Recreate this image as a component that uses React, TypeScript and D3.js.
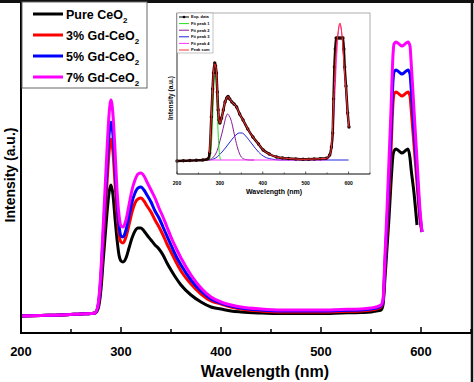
import React from "react";
import * as d3 from "d3";

// ---------- main chart data (intensity, arbitrary units) ----------
const wl = [200, 220, 240, 260, 270, 274, 277, 280, 282, 284, 286, 288, 290, 292, 294, 296, 298, 300, 302, 305, 308, 311, 314, 317, 320, 323, 326, 330, 334, 338, 342, 346, 350, 355, 360, 370, 380, 390, 400, 410, 420, 440, 460, 480, 500, 520, 540, 550, 555, 560, 562, 564, 566, 568, 570, 572, 573, 575, 578, 581, 584, 587, 589, 590, 593, 596, 599, 601];

const pure = [17, 17.5, 18, 19, 19.5, 20, 24, 44, 70, 95, 120, 140, 148, 138, 115, 94, 78, 72, 71, 75, 85, 95, 102, 105, 105, 102, 98, 93, 88, 84, 78, 70, 63, 55, 48, 38, 31, 26, 24, 22, 21, 20, 19.5, 19.5, 19.5, 20, 20.5, 21, 22, 23, 28, 55, 85, 115, 150, 178, 182, 184, 182, 180, 182, 184, 175, 165, 140, 108, null, null];
const gd3 = [17, 17.5, 18, 19, 19.5, 20, 26, 53, 86, 118, 150, 180, 194, 181, 150, 120, 99, 91, 90, 96, 108, 121, 130, 134, 135, 132, 127, 121, 113, 106, 98, 89, 81, 71, 62, 49, 39, 32, 29, 26, 24, 22, 21, 21, 21, 21.5, 22, 23, 24, 26, 30, 65, 100, 140, 182, 230, 239, 241, 239, 237, 239, 241, 237, 226, 188, 150, 113, 101];
const gd5 = [17, 17.5, 18, 19, 19.5, 20, 27, 58, 94, 130, 166, 198, 211, 198, 166, 132, 108, 97, 96, 103, 117, 131, 140, 145, 146, 143, 138, 131, 122, 115, 106, 97, 88, 77, 68, 53, 42, 34, 30, 27, 25, 23, 22, 22, 22, 22.5, 23, 24, 25, 27, 31, 70, 110, 155, 200, 252, 261, 263, 261, 259, 261, 263, 259, 247, 203, 160, 118, 101];
const gd7 = [17, 17.5, 18, 19, 19.5, 20, 28, 63, 103, 143, 183, 218, 233, 218, 183, 143, 118, 107, 106, 113, 128, 143, 153, 159, 160, 157, 151, 143, 135, 125, 116, 106, 96, 85, 75, 58, 45, 36, 31, 28, 26, 24, 23, 23, 23, 23.5, 24, 25, 26, 28, 33, 78, 123, 173, 223, 278, 289, 291, 289, 287, 289, 291, 287, 273, 223, 173, 123, 101];

const seriesNames = ["Pure CeO", "3% Gd-CeO", "5% Gd-CeO", "7% Gd-CeO"];
const seriesColors = ["#000000", "#ff0000", "#0000ff", "#ff00ff"];
const seriesValues = [pure, gd3, gd5, gd7];
const xTicks = [200, 300, 400, 500, 600];
const xMinor = [250, 350, 450, 550, 650];

// ---------- inset data ----------
const expWl = [200, 215, 230, 245, 260, 272, 276, 280, 283, 285, 288, 290, 292, 294, 296, 298, 300, 304, 308, 312, 316, 319, 323, 328, 333, 339, 346, 354, 365, 377, 390, 401, 415, 432, 446, 460, 477, 494, 507, 520, 534, 548, 556, 560, 563, 565, 567, 569, 571, 575, 580, 585, 587, 589, 591, 594, 598, 601];
const expVal = [13, 13.2, 13.5, 13.7, 14, 15, 21, 57, 85, 101, 111, 108, 101, 82, 64, 54, 51, 56, 64, 72, 76, 77.5, 75, 72, 70, 67, 60, 54, 45, 37, 30, 24, 20, 17, 16, 15.5, 15, 14.7, 14.8, 15, 15.3, 15.7, 19, 27, 41, 75, 107, 125, 136, 136, 136, 136, 136, 125, 107, 88, 61, 47];
const sumWl = [276, 280, 283, 285, 288, 290, 292, 294, 296, 298, 300, 304, 308, 312, 316, 319, 323, 328, 333, 339, 346, 354, 365, 377, 390, 401, 415, 432, 460, 494, 520, 548, 556, 560, 565, 570, 575, 580, 583, 587, 590, 594, 598, 601];
const sumVal = [21, 57, 85, 101, 110, 108, 101, 82, 64, 54, 51, 56, 64, 72, 76, 77.5, 75, 72, 70, 67, 60, 54, 45, 37, 30, 24, 20, 17, 15.5, 14.7, 15, 15.7, 19, 27, 70, 115, 140, 151, 145, 125, 105, 85, 60, 47];
const p1Wl = [276, 280, 283, 285, 287, 289, 291, 293, 296, 299, 302];
const p1Val = [14, 28, 55, 78, 95, 99, 95, 75, 40, 20, 14];
const p2Wl = [276, 285, 290, 295, 300, 305, 310, 314, 318, 322, 326, 330, 335, 342, 350, 360, 370, 380];
const p2Val = [14, 17, 20, 25, 33, 41, 50, 57, 60, 58, 54, 47, 37, 25, 17, 14.5, 14, 14];
const p3Wl = [275, 290, 305, 320, 335, 345, 352, 360, 375, 390, 405, 420, 440, 500, 600];
const p3Val = [14, 16, 22, 30, 38, 41, 41, 38, 30, 22, 17, 15, 14, 14, 14];
const p4Wl = [277, 350, 450, 540, 552, 560, 566, 572, 577, 580, 583, 588, 593, 598, 601];
const p4Val = [14, 14, 14, 14, 15, 24, 60, 115, 145, 150, 145, 120, 85, 57, 47];
const insetLegend = ["Exp. data", "Fit peak 1", "Fit peak 2", "Fit peak 3", "Fit peak 4", "Peak sum"];
const insetColors = ["#000000", "#22dd22", "#8a1a9a", "#2222dd", "#ff33ff", "#ff3333"];

const FONT = "'Liberation Sans', Arial, sans-serif";

export default function App() {
  const W = 474, H = 382;
  const x = d3.scaleLinear().domain([200, 650]).range([21, 471]);
  const y = d3.scaleLinear().domain([0, 331]).range([333, 2]);

  const mainLine = (vals: (number | null)[]) =>
    d3.line<number>()
      .defined((_, i) => vals[i] != null)
      .x((d) => x(d))
      .y((_, i) => y(vals[i] as number))
      .curve(d3.curveMonotoneX)(wl) || "";

  const xi = d3.scaleLinear().domain([200, 650]).range([177, 370]);
  const yi = d3.scaleLinear().domain([0, 161]).range([174, 13]);
  const insetLine = (ws: number[], vs: number[]) =>
    d3.line<number>()
      .x((d) => xi(d))
      .y((_, i) => yi(vs[i]))
      .curve(d3.curveMonotoneX)(ws) || "";

  return (
    <svg width={W} height={H} style={{ position: "absolute", left: 0, top: 0, background: "#fff" }} fontFamily={FONT}>
      <rect x={0} y={0} width={W} height={H} fill="#fff" />
      {/* main curves */}
      {seriesValues.map((vals, i) => (
        <path key={i} d={mainLine(vals)} fill="none" stroke={seriesColors[i]} strokeWidth={3} strokeLinejoin="round" />
      ))}

      {/* frame */}
      <line x1={0} x2={W} y1={1.5} y2={1.5} stroke="#111" strokeWidth={3} />
      <line x1={472} x2={472} y1={0} y2={H} stroke="#111" strokeWidth={2.5} />
      <line x1={21} x2={21} y1={2} y2={334} stroke="#000" strokeWidth={2} />
      <line x1={20} x2={471} y1={333} y2={333} stroke="#000" strokeWidth={2} />
      {xTicks.map((t) => (
        <g key={t}>
          <line x1={x(t)} x2={x(t)} y1={333} y2={327} stroke="#000" strokeWidth={1.5} />
          <text x={x(t)} y={356} textAnchor="middle" fontSize={13} fontWeight="bold">{t}</text>
        </g>
      ))}
      {xMinor.map((t) => (
        <line key={t} x1={x(t)} x2={x(t)} y1={333} y2={329} stroke="#000" strokeWidth={1.5} />
      ))}
      <text x={265} y={377} textAnchor="middle" fontSize={16} fontWeight="bold">Wavelength (nm)</text>
      <text transform="translate(15,175) rotate(-90)" textAnchor="middle" fontSize={14} fontWeight="bold">Intensity (a.u.)</text>

      {/* legend */}
      <rect x={22} y={2} width={125} height={86} fill="#fff" stroke="#666" strokeWidth={1} />
      {seriesNames.map((n, i) => (
        <g key={n}>
          <line x1={33} x2={63} y1={14 + i * 21} y2={14 + i * 21} stroke={seriesColors[i]} strokeWidth={3} />
          <text x={66} y={18.5 + i * 21} fontSize={12.5} fontWeight="bold">
            {n}
            <tspan fontSize={8} dy={4}>2</tspan>
          </text>
        </g>
      ))}

      {/* inset */}
      <rect x={177} y={13} width={193} height={161} fill="#fff" stroke="#999" strokeWidth={0.8} />
      <path d={insetLine(p3Wl, p3Val)} fill="none" stroke={insetColors[3]} strokeWidth={1} />
      <path d={insetLine(p2Wl, p2Val)} fill="none" stroke={insetColors[2]} strokeWidth={1} />
      <path d={insetLine(p4Wl, p4Val)} fill="none" stroke={insetColors[4]} strokeWidth={1} />
      <path d={insetLine(p1Wl, p1Val)} fill="none" stroke={insetColors[1]} strokeWidth={1} />
      <path d={insetLine(expWl, expVal)} fill="none" stroke="#220000" strokeWidth={2.5} />
      {expWl.map((w, i) => (
        <circle key={i} cx={xi(w)} cy={yi(expVal[i])} r={1.7} fill="#2a0505" />
      ))}
      <path d={insetLine(sumWl, sumVal)} fill="none" stroke={insetColors[5]} strokeWidth={1} />
      <line x1={177} x2={177} y1={13} y2={174} stroke="#555" strokeWidth={1} />
      <line x1={177} x2={370} y1={174} y2={174} stroke="#333" strokeWidth={1} />
      {xTicks.map((t) => (
        <g key={t}>
          <line x1={xi(t)} x2={xi(t)} y1={174} y2={171.5} stroke="#333" strokeWidth={0.8} />
          <text x={xi(t)} y={185} textAnchor="middle" fontSize={5} fontWeight="bold">{t}</text>
        </g>
      ))}
      {xMinor.map((t) => (
        <line key={t} x1={xi(t)} x2={xi(t)} y1={174} y2={172.5} stroke="#333" strokeWidth={0.8} />
      ))}
      <text x={274} y={194} textAnchor="middle" fontSize={7} fontWeight="bold">Wavelength (nm)</text>
      <text transform="translate(173,98) rotate(-90)" textAnchor="middle" fontSize={6.5} fontWeight="bold">Intensity (a.u.)</text>
      {/* inset legend */}
      <rect x={177} y={13} width={36} height={40} fill="#fff" stroke="#999" strokeWidth={0.6} />
      {insetLegend.map((n, i) => (
        <g key={n}>
          <line x1={179} x2={189} y1={17 + i * 6.6} y2={17 + i * 6.6} stroke={insetColors[i]} strokeWidth={1} />
          {i === 0 && <circle cx={184} cy={17} r={1.3} fill="#000" />}
          <text x={191} y={18.4 + i * 6.6} fontSize={4} fontWeight="bold">{n}</text>
        </g>
      ))}
    </svg>
  );
}
